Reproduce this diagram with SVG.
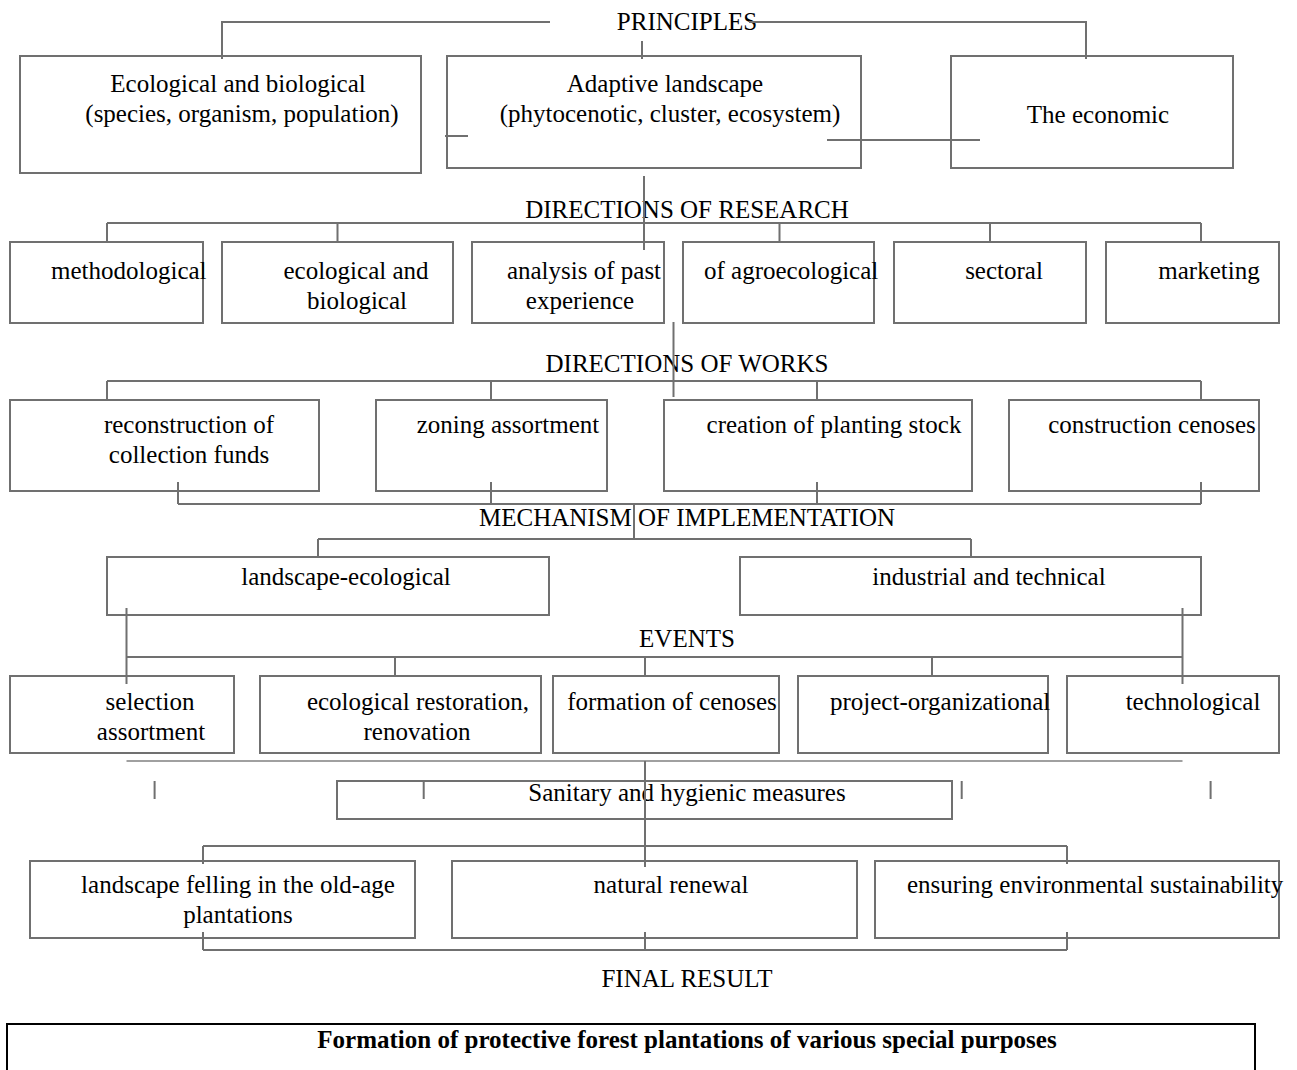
<svg xmlns="http://www.w3.org/2000/svg" width="1297" height="1070" viewBox="0 0 1297 1070">
<style>
.box{fill:#fff;stroke:#707070;stroke-width:2}
.t{font-family:"Liberation Serif","Times New Roman",serif;font-size:25px;fill:#000}
.c{text-anchor:middle}
.b{font-weight:bold}
.ln{fill:none;stroke:#707070;stroke-width:2}
.lt{fill:none;stroke:#a0a0a0;stroke-width:2}
</style>
<rect width="1297" height="1070" fill="#fff"/>
<g id="labels">
<text class="t c" x="687" y="30">PRINCIPLES</text>
<text class="t c" x="687" y="218">DIRECTIONS OF RESEARCH</text>
<text class="t c" x="687" y="372">DIRECTIONS OF WORKS</text>
<text class="t c" x="687" y="526">MECHANISM OF IMPLEMENTATION</text>
<text class="t c" x="687" y="647">EVENTS</text>
<text class="t c" x="687" y="987">FINAL RESULT</text>
</g>
<g id="p1"><rect class="box" x="20" y="56" width="401" height="117"/><text class="t c" x="238" y="92">Ecological and biological</text><text class="t c" x="242" y="122">(species, organism, population)</text></g>
<g id="p2"><rect class="box" x="447" y="56" width="414" height="112"/><text class="t c" x="665" y="92">Adaptive landscape</text><text class="t c" x="670" y="122">(phytocenotic, cluster, ecosystem)</text></g>
<g id="p3"><rect class="box" x="951" y="56" width="282" height="112"/><text class="t c" x="1098" y="123">The economic</text></g>

<g id="r1"><rect class="box" x="10" y="242" width="193" height="81"/><text class="t" x="51" y="279">methodological</text></g>
<g id="r2"><rect class="box" x="222" y="242" width="231" height="81"/><text class="t c" x="356" y="279">ecological and</text><text class="t c" x="357" y="309">biological</text></g>
<g id="r3"><rect class="box" x="472" y="242" width="192" height="81"/><text class="t c" x="584" y="279">analysis of past</text><text class="t c" x="580" y="309">experience</text></g>
<g id="r4"><rect class="box" x="683" y="242" width="191" height="81"/><text class="t" x="704" y="279">of agroecological</text></g>
<g id="r5"><rect class="box" x="894" y="242" width="192" height="81"/><text class="t c" x="1004" y="279">sectoral</text></g>
<g id="r6"><rect class="box" x="1106" y="242" width="173" height="81"/><text class="t c" x="1209" y="279">marketing</text></g>

<g id="w1"><rect class="box" x="10" y="400" width="309" height="91"/><text class="t c" x="189" y="433">reconstruction of</text><text class="t c" x="189" y="463">collection funds</text></g>
<g id="w2"><rect class="box" x="376" y="400" width="231" height="91"/><text class="t c" x="508" y="433">zoning assortment</text></g>
<g id="w3"><rect class="box" x="664" y="400" width="308" height="91"/><text class="t c" x="834" y="433">creation of planting stock</text></g>
<g id="w4"><rect class="box" x="1009" y="400" width="250" height="91"/><text class="t c" x="1152" y="433">construction cenoses</text></g>

<g id="m1"><rect class="box" x="107" y="557" width="442" height="58"/><text class="t c" x="346" y="585">landscape-ecological</text></g>
<g id="m2"><rect class="box" x="740" y="557" width="461" height="58"/><text class="t c" x="989" y="585">industrial and technical</text></g>

<g id="e1"><rect class="box" x="10" y="676" width="224" height="77"/><text class="t c" x="150" y="710">selection</text><text class="t c" x="151" y="740">assortment</text></g>
<g id="e2"><rect class="box" x="260" y="676" width="281" height="77"/><text class="t c" x="418" y="710">ecological restoration,</text><text class="t c" x="417" y="740">renovation</text></g>
<g id="e3"><rect class="box" x="553" y="676" width="226" height="77"/><text class="t c" x="672" y="710">formation of cenoses</text></g>
<g id="e4"><rect class="box" x="798" y="676" width="250" height="77"/><text class="t" x="830" y="710">project-organizational</text></g>
<g id="e5"><rect class="box" x="1067" y="676" width="212" height="77"/><text class="t c" x="1193" y="710">technological</text></g>

<g id="s1"><rect class="box" x="337" y="781" width="615" height="38"/><text class="t c" x="687" y="801">Sanitary and hygienic measures</text></g>

<g id="f1"><rect class="box" x="30" y="861" width="385" height="77"/><text class="t c" x="238" y="893">landscape felling in the old-age</text><text class="t c" x="238" y="923">plantations</text></g>
<g id="f2"><rect class="box" x="452" y="861" width="405" height="77"/><text class="t c" x="671" y="893">natural renewal</text></g>
<g id="f3"><rect class="box" x="875" y="861" width="404" height="77"/><text class="t" x="907" y="893">ensuring environmental sustainability</text></g>

<g id="result"><rect x="7" y="1024" width="1248" height="60" fill="#fff" stroke="#000" stroke-width="2"/><text class="t c b" x="687" y="1048">Formation of protective forest plantations of various special purposes</text></g>

<g id="connectors">
<path class="ln" d="M550,22H222V59M749,22H1086V59M642,41V59M445,136H468M827,140H980M644,176V250"/>
<path class="ln" d="M107,223H1201M107,223V242M337.5,223V242M779.5,223V242M990,223V242M1201,223V242"/>
<path class="ln" d="M673.5,322V397"/>
<path class="ln" d="M107,381H1201M107,381V400M491,381V400M817,381V400M1201,381V400"/>
<path class="ln" d="M178,482V504M491,482V504M817,482V504M1201,482V504M178,504H1201M634,504V540"/>
<path class="ln" d="M318,539H971M318,539V557M971,539V557"/>
<path class="ln" d="M126.5,608V684M1182.5,608V684M126.5,657H1182.5M395,657V676M645,657V676M932,657V676"/>
<path class="lt" d="M126.5,761H1182.5"/>
<path class="ln" d="M645,761V867M154.6,781V799M423.7,781V799M961.7,781V799M1210.6,781V799"/>
<path class="ln" d="M203,846H1067M203,846V864M1067,846V864"/>
<path class="ln" d="M203,932V950M645,932V950M1067,932V950M203,950H1067"/>
</g>
</svg>
